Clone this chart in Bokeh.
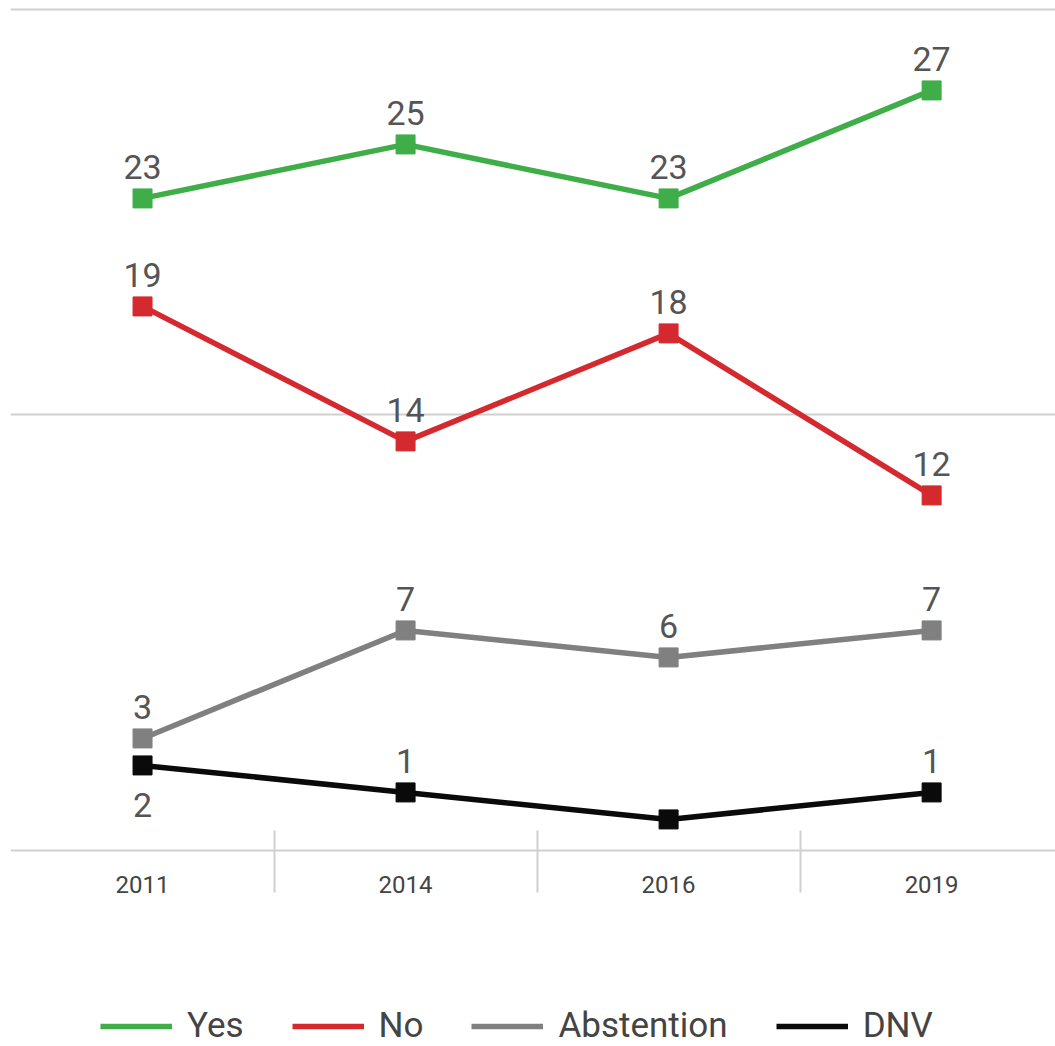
from bokeh.plotting import figure
from bokeh.models import ColumnDataSource, FixedTicker, Legend, LegendItem, Range1d
from bokeh.core.properties import value
from bokeh.embed import file_html
from bokeh.resources import INLINE

years = ["2011", "2014", "2016", "2019"]
yes_vals = [23, 25, 23, 27]
no_vals = [19, 14, 18, 12]
abst_vals = [3, 7, 6, 7]
dnv_vals = [2, 1, 0, 1]
# label placement: 1 = above the point, -1 = below, 0 = hidden
yes_pos = [1, 1, 1, 1]
no_pos = [1, 1, 1, 1]
abst_pos = [1, 1, 1, 1]
dnv_pos = [-1, 1, 0, 1]
axis_base = -1.148

series = [
    ("Yes", yes_vals, yes_pos, "#3fae49"),
    ("No", no_vals, no_pos, "#d42a2f"),
    ("Abstention", abst_vals, abst_pos, "#808080"),
    ("DNV", dnv_vals, dnv_pos, "#0a0a0a"),
]

p = figure(width=1055, height=1046, output_backend="svg", toolbar_location=None,
           x_range=Range1d(-0.502, 3.471), y_range=Range1d(-8.41, 30.33),
           min_border_left=10, min_border_right=0, min_border_top=0, min_border_bottom=0)
p.outline_line_color = None
p.background_fill_color = "white"
p.border_fill_color = "white"
p.yaxis.visible = False

p.xgrid.visible = False
p.ygrid.ticker = FixedTicker(ticks=[15, 30])
p.ygrid.grid_line_color = "#d0d0d0"
p.ygrid.grid_line_width = 2

xs = list(range(len(years)))
ax = p.xaxis[0]
ax.fixed_location = axis_base
ax.ticker = FixedTicker(ticks=xs, minor_ticks=[0.5, 1.5, 2.5])
ax.major_label_overrides = {i: y for i, y in enumerate(years)}
ax.major_tick_in = 0
ax.major_tick_out = 0
ax.minor_tick_in = 20
ax.minor_tick_out = 42
ax.minor_tick_line_color = "#d0d0d0"
ax.minor_tick_line_width = 2
ax.axis_line_color = "#d0d0d0"
ax.axis_line_width = 2
ax.major_label_standoff = -16
ax.major_label_text_font = "Roboto"
ax.major_label_text_font_size = "24px"
ax.major_label_text_color = "#444444"

items = []
for name, vals, pos, color in series:
    r = p.line(xs, vals, line_color=color, line_width=5.5)
    p.scatter(xs, vals, marker="square", size=19, fill_color=color, line_color=color)
    labels = [str(v) if s != 0 else "" for v, s in zip(vals, pos)]
    offs = [-31 if s >= 0 else 40 for s in pos]
    src = ColumnDataSource(dict(x=xs, y=vals, t=labels, o=offs))
    p.text(x="x", y="y", text="t", y_offset="o", source=src, text_align="center",
           text_baseline="alphabetic", text_font=value("Roboto"), text_font_size="34px",
           text_color="#555555")
    items.append(LegendItem(label=name, renderers=[r]))

legend = Legend(items=items, orientation="horizontal", location=(90, 0),
                label_text_font="Roboto", label_text_font_size="35px",
                label_text_color="#444444", glyph_width=72, glyph_height=30,
                label_standoff=15, spacing=48, border_line_color=None,
                background_fill_alpha=0, margin=0, padding=0)
p.add_layout(legend)

open("out.html", "w").write(file_html(p, INLINE))
